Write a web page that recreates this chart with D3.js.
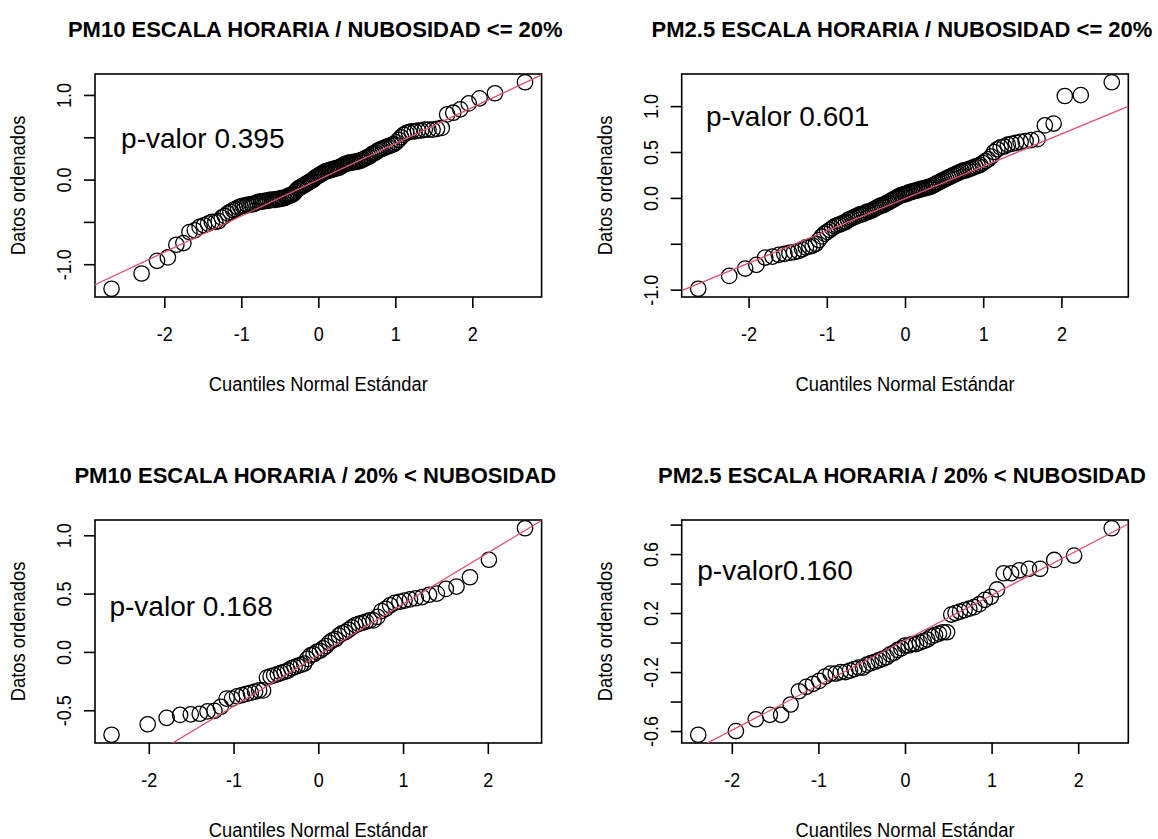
<!DOCTYPE html>
<html>
<head>
<meta charset="utf-8">
<script src="https://cdn.jsdelivr.net/npm/d3@7"></script>
<style>
html,body{margin:0;padding:0;background:#fff;}
svg{display:block;font-family:"Liberation Sans",Arial,Helvetica,sans-serif;}
</style>
</head>
<body>
<svg id="chart" width="1158" height="839"></svg>
<script>
// ---------- data ----------
const titles = [
  "PM10 ESCALA HORARIA / NUBOSIDAD <= 20%",
  "PM2.5 ESCALA HORARIA / NUBOSIDAD <= 20%",
  "PM10 ESCALA HORARIA / 20% < NUBOSIDAD",
  "PM2.5 ESCALA HORARIA / 20% < NUBOSIDAD"
];
const xAxisTitle = "Cuantiles Normal Estándar";
const yAxisTitle = "Datos ordenados";
const pLabels = ["p-valor 0.395", "p-valor 0.601", "p-valor 0.168", "p-valor0.160"];
const pLabelX = [-1.5, -1.5, -1.5, -1.5];
const pLabelY = [0.5, 0.9, 0.4, 0.5];

const xTicks = [-2, -1, 0, 1, 2];
const xTickLabels = ["-2", "-1", "0", "1", "2"];
const yTicks1 = [-1, -0.5, 0, 0.5, 1];
const yTickLabels1 = ["-1.0", "", "0.0", "", "1.0"];
const yTicks2 = [-1, -0.5, 0, 0.5, 1];
const yTickLabels2 = ["-1.0", "", "0.0", "0.5", "1.0"];
const yTicks3 = [-0.5, 0, 0.5, 1];
const yTickLabels3 = ["-0.5", "0.0", "0.5", "1.0"];
const yTicks4 = [-0.6, -0.4, -0.2, 0, 0.2, 0.4, 0.6, 0.8];
const yTickLabels4 = ["-0.6", "", "-0.2", "", "0.2", "", "0.6", ""];

// qqline: intercept and slope
const lineIntercept = [-0.003, -0.0075, -0.028, 0.016];
const lineSlope = [0.4276, 0.3515, 0.438, 0.3055];

// ordered sample values
const pm10Low = [
  -1.29,-1.11,-0.96,-0.92,-0.77,-0.75,-0.62,-0.60,-0.56,-0.54,
  -0.52,-0.50,-0.50,-0.49,-0.45,-0.43,-0.40,-0.38,-0.36,-0.35,
  -0.33,-0.32,-0.31,-0.31,-0.30,-0.30,-0.29,-0.29,-0.28,-0.27,
  -0.26,-0.26,-0.26,-0.25,-0.25,-0.25,-0.24,-0.24,-0.24,-0.24,
  -0.23,-0.23,-0.23,-0.22,-0.22,-0.22,-0.21,-0.20,-0.19,-0.19,
  -0.18,-0.17,-0.15,-0.13,-0.11,-0.10,-0.09,-0.08,-0.07,-0.06,
  -0.05,-0.04,-0.03,-0.02,-0.01,0.00,0.02,0.03,0.04,0.05,
  0.06,0.07,0.08,0.09,0.10,0.10,0.11,0.11,0.12,0.12,
  0.13,0.13,0.14,0.14,0.15,0.16,0.17,0.18,0.19,0.19,
  0.20,0.20,0.20,0.21,0.21,0.21,0.22,0.22,0.23,0.24,
  0.25,0.26,0.27,0.28,0.30,0.31,0.32,0.34,0.35,0.36,
  0.37,0.38,0.39,0.40,0.41,0.42,0.44,0.47,0.50,0.53,
  0.55,0.56,0.57,0.57,0.58,0.58,0.59,0.59,0.59,0.60,
  0.61,0.77,0.79,0.83,0.90,0.96,1.02,1.15
];
const pm25Low = [
  -0.99,-0.85,-0.77,-0.73,-0.65,-0.64,-0.62,-0.61,-0.60,-0.59,
  -0.58,-0.56,-0.54,-0.53,-0.52,-0.50,-0.46,-0.42,-0.39,-0.37,
  -0.35,-0.33,-0.31,-0.30,-0.29,-0.28,-0.27,-0.26,-0.24,-0.23,
  -0.22,-0.21,-0.20,-0.19,-0.18,-0.18,-0.17,-0.16,-0.15,-0.15,
  -0.14,-0.13,-0.12,-0.11,-0.10,-0.09,-0.08,-0.08,-0.07,-0.06,
  -0.05,-0.04,-0.03,-0.02,-0.01,0.00,0.01,0.02,0.03,0.03,
  0.04,0.04,0.05,0.06,0.06,0.07,0.07,0.08,0.08,0.09,
  0.09,0.10,0.10,0.11,0.11,0.12,0.12,0.13,0.14,0.15,
  0.16,0.17,0.18,0.19,0.20,0.21,0.22,0.23,0.24,0.25,
  0.26,0.27,0.28,0.29,0.30,0.30,0.31,0.32,0.33,0.34,
  0.35,0.36,0.38,0.40,0.42,0.45,0.50,0.53,0.55,0.56,
  0.58,0.59,0.60,0.61,0.62,0.63,0.64,0.79,0.81,1.11,
  1.12,1.26
];
const pm10High = [
  -0.71,-0.62,-0.565,-0.54,-0.535,-0.53,-0.51,-0.505,-0.47,-0.40,
  -0.40,-0.38,-0.37,-0.36,-0.35,-0.34,-0.33,-0.33,-0.22,-0.21,
  -0.20,-0.19,-0.18,-0.17,-0.16,-0.14,-0.13,-0.12,-0.11,-0.10,
  -0.06,-0.03,-0.02,0.00,0.01,0.03,0.05,0.08,0.10,0.11,
  0.14,0.16,0.17,0.19,0.21,0.23,0.24,0.25,0.26,0.27,
  0.27,0.30,0.35,0.37,0.40,0.42,0.43,0.44,0.45,0.46,
  0.47,0.49,0.50,0.54,0.56,0.64,0.79,1.06
];
const pm25High = [
  -0.625,-0.60,-0.52,-0.49,-0.49,-0.42,-0.33,-0.30,-0.28,-0.26,
  -0.23,-0.21,-0.21,-0.20,-0.20,-0.19,-0.18,-0.17,-0.17,-0.15,
  -0.14,-0.13,-0.12,-0.11,-0.10,-0.08,-0.07,-0.05,-0.04,-0.02,
  -0.02,-0.01,-0.01,0.00,0.01,0.02,0.04,0.05,0.06,0.07,
  0.07,0.19,0.20,0.21,0.22,0.23,0.24,0.26,0.29,0.31,
  0.36,0.47,0.47,0.49,0.50,0.50,0.56,0.59,0.775
];

// ---------- layout ----------
const W = 1158, H = 839;
const COL_X = [95, 681.7];
const ROW_Y = [74, 520];
const BOX_W = 446.6, BOX_H = 223;
const TICK_FONT = 20, TICK_SQUEEZE = 0.9;
const LAB_FONT = 19.5, LAB_SQUEEZE = 0.94;
const TITLE_FONT = 22;
const RED = "#DF536B";

const panels = [
  {values: pm10Low, yTicks: yTicks1, yLabels: yTickLabels1},
  {values: pm25Low, yTicks: yTicks2, yLabels: yTickLabels2},
  {values: pm10High, yTicks: yTicks3, yLabels: yTickLabels3},
  {values: pm25High, yTicks: yTicks4, yLabels: yTickLabels4}
];

// inverse standard normal CDF (theoretical quantiles of a normal QQ plot)
function qnorm(p) {
  const a=[-3.969683028665376e+01,2.209460984245205e+02,-2.759285104469687e+02,1.383577518672690e+02,-3.066479806614716e+01,2.506628277459239e+00];
  const b=[-5.447609879822406e+01,1.615858368580409e+02,-1.556989798598866e+02,6.680131188771972e+01,-1.328068155288572e+01];
  const c=[-7.784894002430293e-03,-3.223964580411365e-01,-2.400758277161838e+00,-2.549732539343734e+00,4.374664141464968e+00,2.938163982698783e+00];
  const d=[7.784695709041462e-03,3.224671290700398e-01,2.445134137142996e+00,3.754408661907416e+00];
  const pl = 0.02425, ph = 1 - pl;
  let q, r;
  if (p < pl) {
    q = Math.sqrt(-2*Math.log(p));
    return (((((c[0]*q+c[1])*q+c[2])*q+c[3])*q+c[4])*q+c[5])/((((d[0]*q+d[1])*q+d[2])*q+d[3])*q+1);
  }
  if (p <= ph) {
    q = p - 0.5; r = q*q;
    return (((((a[0]*r+a[1])*r+a[2])*r+a[3])*r+a[4])*r+a[5])*q/(((((b[0]*r+b[1])*r+b[2])*r+b[3])*r+b[4])*r+1);
  }
  q = Math.sqrt(-2*Math.log(1-p));
  return -(((((c[0]*q+c[1])*q+c[2])*q+c[3])*q+c[4])*q+c[5])/((((d[0]*q+d[1])*q+d[2])*q+d[3])*q+1);
}

// narrow the glyphs horizontally (the reference uses a slightly condensed face)
function squeeze(sel, factor) {
  sel.each(function() {
    const w = this.getComputedTextLength();
    if (w > 0) {
      this.setAttribute("textLength", (w * factor).toFixed(2));
      this.setAttribute("lengthAdjust", "spacingAndGlyphs");
    }
  });
}

const svg = d3.select("#chart").attr("width", W).attr("height", H);
svg.append("rect").attr("width", W).attr("height", H).attr("fill", "#fff");
const defs = svg.append("defs");

panels.forEach((p, k) => {
  const col = k % 2, row = Math.floor(k / 2);
  const left = COL_X[col], top = ROW_Y[row];
  const n = p.values.length;
  const sorted = p.values.slice().sort(d3.ascending);
  const a = n <= 10 ? 3/8 : 0.5;
  const pts = sorted.map((v, i) => [qnorm((i + 1 - a) / (n + 1 - 2*a)), v]);

  const xr = d3.extent(pts, d => d[0]);
  const yr = d3.extent(pts, d => d[1]);
  const xp = 0.04 * (xr[1] - xr[0]);
  const yp = 0.04 * (yr[1] - yr[0]);
  const x = d3.scaleLinear().domain([xr[0] - xp, xr[1] + xp]).range([left, left + BOX_W]);
  const y = d3.scaleLinear().domain([yr[0] - yp, yr[1] + yp]).range([top + BOX_H, top]);

  const clipId = "clip" + k;
  defs.append("clipPath").attr("id", clipId)
    .append("rect").attr("x", left).attr("y", top).attr("width", BOX_W).attr("height", BOX_H);

  const g = svg.append("g");

  // points
  g.append("g").selectAll("circle").data(pts).join("circle")
    .attr("cx", d => x(d[0])).attr("cy", d => y(d[1]))
    .attr("r", 7.7).attr("fill", "none").attr("stroke", "#000").attr("stroke-width", 1.3);

  // x axis
  const gx = g.append("g").attr("transform", `translate(0,${top + BOX_H})`)
    .call(d3.axisBottom(x).tickValues(xTicks).tickFormat((d, i) => xTickLabels[i])
      .tickSize(11).tickSizeOuter(0).tickPadding(19));
  gx.select(".domain").remove();
  gx.attr("font-size", TICK_FONT).attr("font-family", null);
  gx.selectAll("line").attr("stroke", "#000").attr("stroke-width", 1.6);
  gx.selectAll("text").attr("fill", "#000");
  squeeze(gx.selectAll("text"), TICK_SQUEEZE);

  // y axis
  const gy = g.append("g").attr("transform", `translate(${left},0)`)
    .call(d3.axisLeft(y).tickValues(p.yTicks).tickFormat((d, i) => p.yLabels[i])
      .tickSize(11).tickSizeOuter(0));
  gy.select(".domain").remove();
  gy.attr("font-size", TICK_FONT).attr("font-family", null);
  gy.selectAll("line").attr("stroke", "#000").attr("stroke-width", 1.6);
  gy.selectAll("text").attr("fill", "#000")
    .attr("x", 0).attr("dy", null)
    .attr("text-anchor", "middle")
    .attr("transform", "translate(-24,0) rotate(-90)");
  squeeze(gy.selectAll("text"), TICK_SQUEEZE);

  // box
  g.append("rect").attr("x", left).attr("y", top).attr("width", BOX_W).attr("height", BOX_H)
    .attr("fill", "none").attr("stroke", "#000").attr("stroke-width", 1.6);

  // qq line
  const xd = x.domain();
  g.append("line").attr("clip-path", `url(#${clipId})`)
    .attr("x1", x(xd[0])).attr("y1", y(lineIntercept[k] + lineSlope[k] * xd[0]))
    .attr("x2", x(xd[1])).attr("y2", y(lineIntercept[k] + lineSlope[k] * xd[1]))
    .attr("stroke", RED).attr("stroke-width", 1.3);

  // p-valor annotation
  g.append("text").attr("x", x(pLabelX[k])).attr("y", y(pLabelY[k]) + 11)
    .attr("text-anchor", "middle").attr("font-size", 28).attr("fill", "#000")
    .text(pLabels[k]);

  // title
  g.append("text").attr("x", left + BOX_W / 2 - 3).attr("y", top - 37.5)
    .attr("text-anchor", "middle").attr("font-size", TITLE_FONT).attr("font-weight", "bold")
    .attr("fill", "#000").text(titles[k]);

  // axis titles
  const xl = g.append("text").attr("x", left + BOX_W / 2).attr("y", top + BOX_H + 93.5)
    .attr("text-anchor", "middle").attr("font-size", LAB_FONT).attr("fill", "#000")
    .text(xAxisTitle);
  squeeze(xl, LAB_SQUEEZE);
  const yl = g.append("text")
    .attr("transform", `translate(${left - 70},${top + BOX_H / 2}) rotate(-90)`)
    .attr("text-anchor", "middle").attr("font-size", LAB_FONT).attr("fill", "#000")
    .text(yAxisTitle);
  squeeze(yl, LAB_SQUEEZE);
});
</script>
</body>
</html>
